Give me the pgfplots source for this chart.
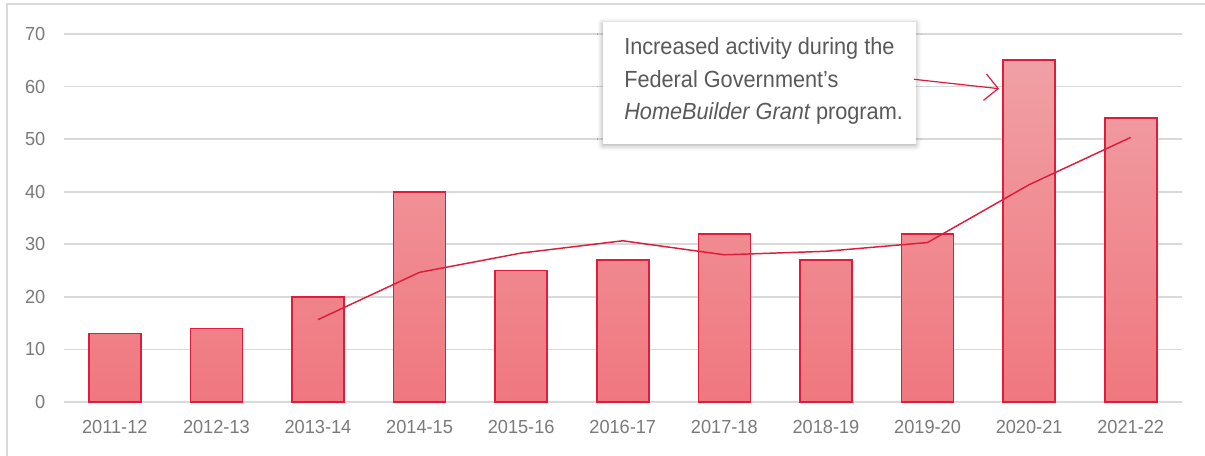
\documentclass[border=0pt]{standalone}
\usepackage{fontspec}
\setmainfont{Liberation Sans}
\newfontfamily\annfont[FakeStretch=0.93]{Liberation Sans}
\newfontfamily\tickfont[FakeStretch=0.96]{Liberation Sans}
\usepackage{pgfplots}
\pgfplotsset{compat=1.18}
\usetikzlibrary{arrows.meta,shadows.blur}
\definecolor{barred}{HTML}{DC1E3C}
\definecolor{bartop}{HTML}{F0A0A5}
\definecolor{barbot}{HTML}{F0777F}
\definecolor{gridgray}{HTML}{D9D9D9}
\definecolor{ticktext}{HTML}{7A7A7A}
\definecolor{anntext}{HTML}{595959}
\begin{document}
\begin{tikzpicture}[x=0.75pt,y=0.75pt]
\useasboundingbox (0,0) rectangle (1205,456);
\draw[gridgray, line width=1.5pt] (6.5,-10) -- (6.5,451.5) -- (1215,451.5);
\begin{axis}[
  at={(48pt,40.5pt)}, anchor=south west,
  scale only axis, width=838.125pt, height=276pt,
  xmin=-0.5, xmax=10.5, ymin=0, ymax=70,
  xtick={0,...,10},
  xticklabels={2011-12,2012-13,2013-14,2014-15,2015-16,2016-17,2017-18,2018-19,2019-20,2020-21,2021-22},
  ytick={0,10,...,70},
  ymajorgrids, grid style={gridgray, line width=1.2pt},
  axis line style={draw=none}, tick style={draw=none},
  ticklabel style={font=\tickfont\fontsize{14.2}{17}\selectfont, text=ticktext},
  /pgf/number format/assume math mode=true,
  xticklabel style={yshift=-10pt},
  yticklabel style={xshift=-10.5pt},
  clip=false,
]
\addplot[ybar, bar width=39pt, draw=barred, line width=1.2pt, top color=bartop, bottom color=barbot]
  coordinates {(0,13) (1,14) (2,20) (3,40) (4,25) (5,27) (6,32) (7,27) (8,32) (9,65) (10,54)};
\addplot[barred, line width=1.1pt, mark=none]
  coordinates {(2,15.667) (3,24.667) (4,28.333) (5,30.667) (6,28) (7,28.667) (8,30.333) (9,41.333) (10,50.333)};
\end{axis}
\fill[white, blur shadow={shadow xshift=0pt, shadow yshift=-1pt, shadow blur radius=4pt, shadow opacity=35}] (602.7,434) rectangle (915.7,312);
\begin{scope}[every node/.style={anchor=base west, inner sep=0pt, text=anntext, font=\annfont\fontsize{17.5}{20}\selectfont}]
\node at (624,401) {Increased activity during the};
\node at (624,368.7) {Federal Government’s};
\node at (624,336) {{\itshape HomeBuilder Grant} program.};
\end{scope}
\draw[barred, line width=0.9pt, -{Straight Barb[length=10pt,width=20pt]}] (914,376.7) -- (999,367.3);
\end{tikzpicture}
\end{document}
